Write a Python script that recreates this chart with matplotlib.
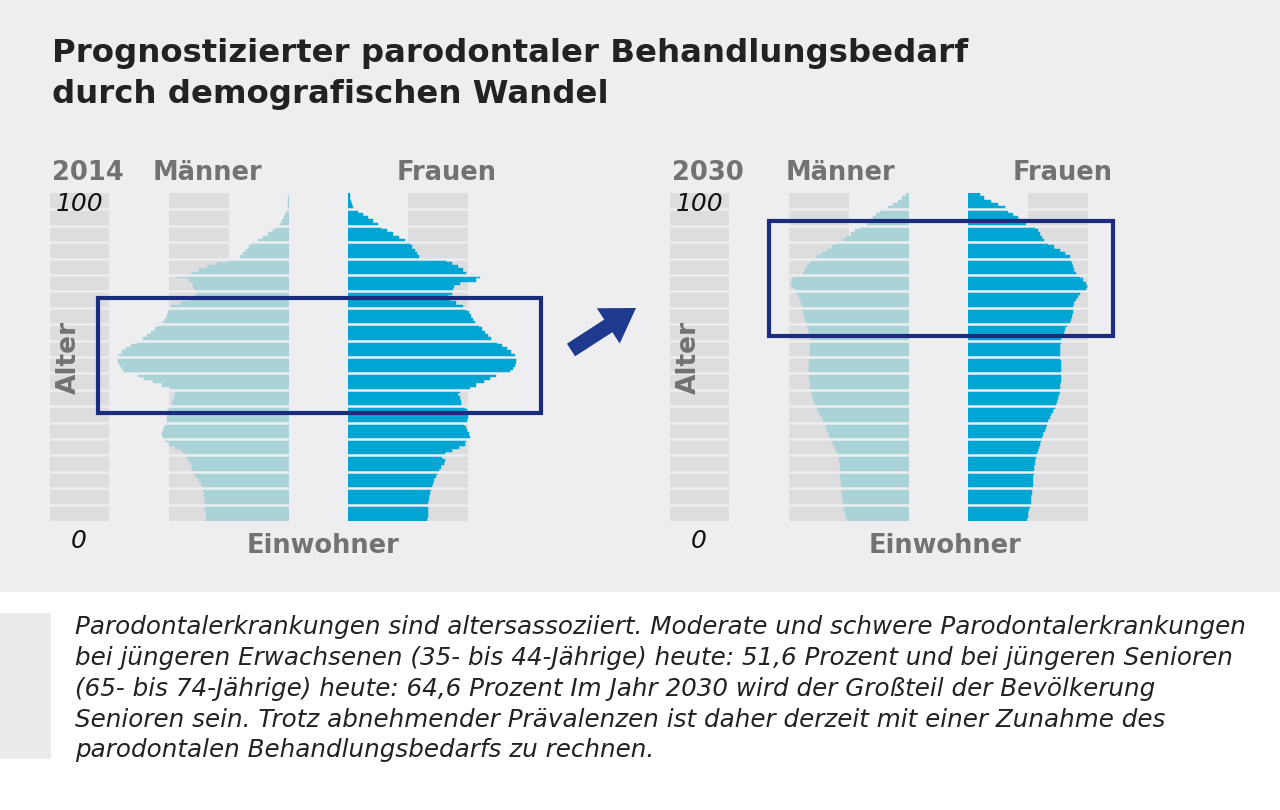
import matplotlib
matplotlib.use('Agg')
import matplotlib.pyplot as plt
from matplotlib.patches import Rectangle, FancyArrow

# ---------------- data (population per single year of age, in thousands) -------------
ages = list(range(100))

maenner_2014 = [332, 332, 332, 336, 336, 336, 336, 340, 340, 344,
                348, 352, 360, 372, 380, 384, 388, 392, 400, 408,
                416, 432, 456, 480, 496, 504, 508, 504, 500, 492,
                488, 488, 488, 484, 476, 468, 464, 460, 456, 444,
                476, 508, 544, 580, 604, 660, 668, 676, 684, 688,
                680, 668, 652, 632, 608, 584, 568, 552, 536, 520,
                504, 496, 488, 484, 480, 472, 432, 400, 376, 368,
                380, 384, 384, 400, 448, 388, 360, 328, 288, 240,
                196, 184, 172, 160, 148, 124, 104, 84, 64, 48,
                36, 28, 22, 16, 10, 6, 4, 4, 3, 2]

frauen_2014 = [316, 320, 320, 320, 320, 320, 324, 324, 328, 332,
               336, 340, 344, 352, 356, 364, 372, 384, 388, 376,
               388, 416, 444, 468, 472, 488, 484, 476, 472, 464,
               476, 480, 480, 476, 468, 452, 452, 448, 440, 448,
               488, 512, 544, 568, 592, 648, 660, 668, 672, 672,
               668, 652, 636, 616, 596, 572, 560, 548, 536, 524,
               508, 500, 492, 484, 472, 460, 432, 408, 400, 416,
               420, 424, 448, 512, 528, 472, 460, 440, 416, 392,
               284, 276, 268, 256, 248, 228, 204, 180, 156, 132,
               120, 100, 80, 60, 40, 20, 14, 10, 8, 6]

maenner_2030 = [248, 252, 256, 260, 264, 264, 264, 268, 268, 272,
                272, 272, 272, 276, 276, 276, 276, 276, 280, 280,
                284, 292, 296, 304, 308, 316, 320, 328, 332, 336,
                344, 348, 356, 364, 368, 376, 380, 384, 388, 392,
                396, 396, 396, 400, 400, 400, 400, 400, 400, 400,
                396, 396, 396, 396, 396, 396, 396, 400, 404, 408,
                412, 416, 420, 424, 428, 428, 432, 436, 440, 448,
                456, 468, 472, 468, 456, 424, 416, 408, 396, 384,
                368, 348, 328, 308, 288, 268, 252, 232, 216, 196,
                168, 156, 144, 132, 116, 84, 64, 44, 28, 12]

frauen_2030 = [236, 240, 240, 244, 248, 252, 252, 252, 256, 256,
               260, 260, 260, 260, 264, 264, 264, 268, 268, 272,
               276, 280, 284, 288, 292, 296, 300, 308, 312, 316,
               320, 328, 332, 340, 348, 352, 356, 360, 364, 368,
               368, 368, 372, 372, 372, 372, 372, 372, 372, 368,
               368, 368, 368, 368, 372, 372, 380, 384, 388, 396,
               408, 412, 416, 420, 420, 420, 424, 432, 440, 448,
               472, 476, 472, 460, 448, 432, 424, 420, 416, 412,
               408, 388, 368, 344, 320, 304, 296, 288, 280, 268,
               232, 216, 200, 180, 160, 148, 120, 92, 64, 48]

years = ["2014", "2030"]
label_m = "Männer"
label_f = "Frauen"
label_age = "Alter"
label_x = "Einwohner"
age_top, age_bottom = "100", "0"

title_lines = ["Prognostizierter parodontaler Behandlungsbedarf",
               "durch demografischen Wandel"]
caption_lines = [
    "Parodontalerkrankungen sind altersassoziiert. Moderate und schwere Parodontalerkrankungen",
    "bei jüngeren Erwachsenen (35- bis 44-Jährige) heute: 51,6 Prozent und bei jüngeren Senioren",
    "(65- bis 74-Jährige) heute: 64,6 Prozent Im Jahr 2030 wird der Großteil der Bevölkerung",
    "Senioren sein. Trotz abnehmender Prävalenzen ist daher derzeit mit einer Zunahme des",
    "parodontalen Behandlungsbedarfs zu rechnen.",
]

# ---------------- styling ------------------------------------------------------------
W, H = 1280, 810
BG = '#eeeef0'
STRIPE = '#dddddf'
C_M = '#a9d3d7'
C_F = '#00a6d3'
NAVY = '#1c2c7c'
ARROW = '#1d3a8e'
GRAY_TXT = '#727272'
DARK = '#222222'
AX_MAX = 956      # thousand inhabitants across 239 px

fig = plt.figure(figsize=(W / 100, H / 100), dpi=100)
fig.patch.set_facecolor('white')


def px_axes(x0, y0, x1, y1, z):
    ax = fig.add_axes([x0 / W, 1 - y1 / H, (x1 - x0) / W, (y1 - y0) / H])
    ax.set_zorder(z)
    return ax


bg = px_axes(0, 0, W, H, 0)
bg.set_xlim(0, W)
bg.set_ylim(H, 0)
bg.axis('off')
bg.add_patch(Rectangle((0, 0), W, 592, color=BG, lw=0))
bg.add_patch(Rectangle((0, 613), 51, 146, color='#ebebeb', lw=0))


def half(x_edge, side, values, color):
    if side == 'm':
        ax = px_axes(x_edge - 239, 193, x_edge, 521, 1)
        ax.set_xlim(AX_MAX, 0)
        stripes = [(240, 480), (720, 960)]
    else:
        ax = px_axes(x_edge, 193, x_edge + 239, 521, 1)
        ax.set_xlim(0, AX_MAX)
        stripes = [(240, 480)]
    ax.set_ylim(-0.5, 99.5)
    ax.axis('off')
    ax.patch.set_alpha(0)
    for a, b in stripes:
        ax.axvspan(a, b, color=STRIPE, lw=0, zorder=0)
    ax.barh(ages, values, height=1.0, color=color, edgecolor=color,
            linewidth=0.3, zorder=1)
    for k in range(1, 20):
        ax.axhline(5 * k - 0.5, color=BG, lw=1.8, zorder=2)
    return ax


panels = [
    dict(year=years[0], m=maenner_2014, f=frauen_2014, xm=289, xf=348, dx=0,
         box=(98, 298, 443, 115), lab_m=153, lab_f=397, einw=323),
    dict(year=years[1], m=maenner_2030, f=frauen_2030, xm=909, xf=968, dx=620,
         box=(769, 221, 344, 115), lab_m=786, lab_f=1013, einw=945),
]

ov = px_axes(0, 0, W, H, 3)
ov.set_xlim(0, W)
ov.set_ylim(H, 0)
ov.axis('off')
ov.patch.set_alpha(0)

for p in panels:
    half(p['xm'], 'm', p['m'], C_M)
    half(p['xf'], 'f', p['f'], C_F)
    dx = p['dx']
    ov.text(52 + dx, 180, p['year'], fontsize=18.5, fontweight='bold',
            color=GRAY_TXT, ha='left', va='baseline')
    ov.text(p['lab_m'], 180, label_m, fontsize=18.5, fontweight='bold',
            color=GRAY_TXT, ha='left', va='baseline')
    ov.text(p['lab_f'], 180, label_f, fontsize=18.5, fontweight='bold',
            color=GRAY_TXT, ha='left', va='baseline')
    ov.text(80 + dx, 211, age_top, fontsize=18, style='italic',
            color='#111111', ha='center', va='baseline')
    ov.text(79 + dx, 548, age_bottom, fontsize=18, style='italic',
            color='#111111', ha='center', va='baseline')
    ov.text(69 + dx, 357, label_age, fontsize=19, fontweight='bold',
            color=GRAY_TXT, ha='center', va='center', rotation=90)
    ov.text(p['einw'], 553, label_x, fontsize=18.5, fontweight='bold',
            color=GRAY_TXT, ha='center', va='baseline')
    bx, by, bw, bh = p['box']
    ov.add_patch(Rectangle((bx, by), bw, bh, fill=False, edgecolor=NAVY,
                           linewidth=3.0))

ov.add_patch(FancyArrow(571, 350, 65, -42, width=15, head_width=42,
                        head_length=33, length_includes_head=True,
                        color=ARROW, lw=0))

# title
ov.text(52, 62, title_lines[0], fontsize=23.3, fontweight='bold', color=DARK,
        ha='left', va='baseline')
ov.text(52, 103, title_lines[1], fontsize=23.3, fontweight='bold', color=DARK,
        ha='left', va='baseline')

# caption
base = [634, 665, 696, 727, 757]
for yb, line in zip(base, caption_lines):
    ov.text(75, yb, line, fontsize=17.7, style='italic', color=DARK,
            ha='left', va='baseline')

fig.savefig('out.png', dpi=100, facecolor='white')
